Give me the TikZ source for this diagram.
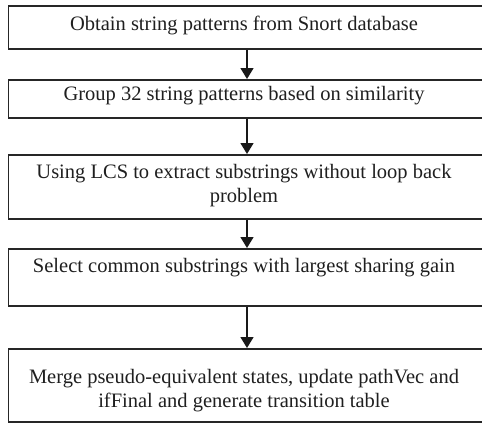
\documentclass[tikz,border=0pt]{standalone}
\usepackage{fontspec}
\setmainfont{Liberation Serif}
\usetikzlibrary{arrows.meta}

\tikzset{
  stepbox/.style={draw=black!85, line width=1.5pt, rectangle, inner sep=0pt,
    minimum width=475.5pt, anchor=north west},
  steptext/.style={anchor=base, inner sep=0pt, text=black!88,
    font=\fontsize{20.5}{24}\selectfont},
  flow/.style={draw=black!90, line width=1.5pt,
    -{Triangle[width=13pt,length=11pt]}}
}

\begin{document}
\begin{tikzpicture}[x=1pt, y=-1pt]
  \useasboundingbox (0,0) rectangle (482,423);

  % process boxes
  \node[stepbox, minimum height=43pt] (b1) at (7.5,5)   {};
  \node[stepbox, minimum height=38pt] (b2) at (7.5,79)  {};
  \node[stepbox, minimum height=64pt] (b3) at (7.5,154) {};
  \node[stepbox, minimum height=57pt] (b4) at (7.5,248) {};
  \node[stepbox, minimum height=73pt] (b5) at (7.5,348) {};

  % box labels
  \node[steptext] (t1)  at (244,30)  {Obtain string patterns from Snort database};
  \node[steptext] (t2)  at (244,100) {Group 32 string patterns based on similarity};
  \node[steptext] (t3a) at (244,178) {Using LCS to extract substrings without loop back};
  \node[steptext] (t3b) at (244,202) {problem};
  \node[steptext] (t4)  at (244,272) {Select common substrings with largest sharing gain};
  \node[steptext] (t5a) at (244,383) {Merge pseudo-equivalent states, update pathVec and};
  \node[steptext] (t5b) at (244,407) {ifFinal and generate transition table};

  % flow arrows
  \coordinate (ax) at (247,0);
  \draw[flow] (b1.south -| ax) -- (b2.north -| ax);
  \draw[flow] (b2.south -| ax) -- (b3.north -| ax);
  \draw[flow] (b3.south -| ax) -- (b4.north -| ax);
  \draw[flow] (b4.south -| ax) -- (b5.north -| ax);
\end{tikzpicture}
\end{document}
